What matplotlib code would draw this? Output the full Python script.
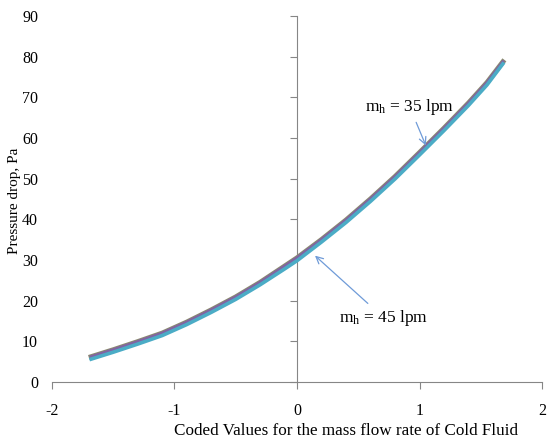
import matplotlib
matplotlib.use("Agg")
import matplotlib.pyplot as plt
import matplotlib.patheffects as pe

plt.rcParams['font.family'] = 'Liberation Serif'
plt.rcParams['mathtext.fontset'] = 'custom'
plt.rcParams['mathtext.rm'] = 'Liberation Serif'
plt.rcParams['mathtext.it'] = 'Liberation Serif:italic'
plt.rcParams['axes.unicode_minus'] = False

# coded values of cold fluid mass flow rate
x = [-1.68, -1.5, -1.3, -1.1, -0.9, -0.7, -0.5, -0.3, -0.1, 0.0, 0.2, 0.4, 0.6,
     0.8, 1.0, 1.2, 1.4, 1.55, 1.68]
# pressure drop (Pa)
dp_35 = [6.2, 7.9, 9.9, 12.0, 14.7, 17.7, 20.9, 24.5, 28.5, 30.5, 35.0, 39.8, 45.0,
         50.5, 56.4, 62.4, 68.6, 73.6, 78.7]
dp_45 = [5.6, 7.3, 9.3, 11.4, 14.1, 17.1, 20.3, 23.9, 27.8, 29.8, 34.4, 39.2, 44.4,
         49.9, 55.8, 61.8, 68.0, 73.0, 78.2]

xticks = [-2, -1, 0, 1, 2]
yticks = [0, 10, 20, 30, 40, 50, 60, 70, 80, 90]

fig = plt.figure(figsize=(5.47, 4.41), dpi=100)
ax = fig.add_axes([0.095, 0.134, 0.896, 0.830])

ax.plot(x, dp_35, color='#8064A2', lw=2.2,
        path_effects=[pe.Stroke(linewidth=3.6, foreground='#8a8a70'), pe.Normal()])
ax.plot(x, dp_45, color='#4BACC6', lw=2.6)

ax.set_xlim(-2, 2)
ax.set_ylim(0, 90)
ax.set_xticks(xticks)
ax.set_yticks(yticks)

gray = '#868686'
for s in ['top', 'right', 'left']:
    ax.spines[s].set_visible(False)
ax.spines['bottom'].set_color(gray)
ax.tick_params(axis='x', direction='out', length=5, color=gray, labelsize=11.5, pad=10)
ax.tick_params(axis='y', length=0, labelsize=11.5, pad=10)

# vertical axis through x = 0
ay = ax.secondary_yaxis(0.5)
ay.set_alignment('left')
for s in ay.spines.values():
    s.set_color(gray)
ay.set_yticks(yticks)
ay.set_yticklabels([])
ay.tick_params(axis='y', direction='out', length=5, color=gray,
               labelleft=False, labelright=False)

fig.text(0.027, 0.545, 'Pressure drop, Pa', rotation=90, ha='center', va='center', fontsize=11)
fig.text(0.633, 0.022, 'Coded Values for the mass flow rate of Cold Fluid', ha='center', va='center', fontsize=12.3)

arrow = dict(arrowstyle='->', color='#6f9bd8', lw=0.9)
ax.annotate(r'm$_\mathregular{h}$ = 35 lpm', xy=(1.06, 57.5), xytext=(0.92, 67.6),
            ha='center', va='center', fontsize=12.5, arrowprops=arrow)
ax.annotate(r'm$_\mathregular{h}$ = 45 lpm', xy=(0.13, 31.5), xytext=(0.71, 15.7),
            ha='center', va='center', fontsize=12.5, arrowprops=arrow)

fig.savefig('out.png', dpi=100)
